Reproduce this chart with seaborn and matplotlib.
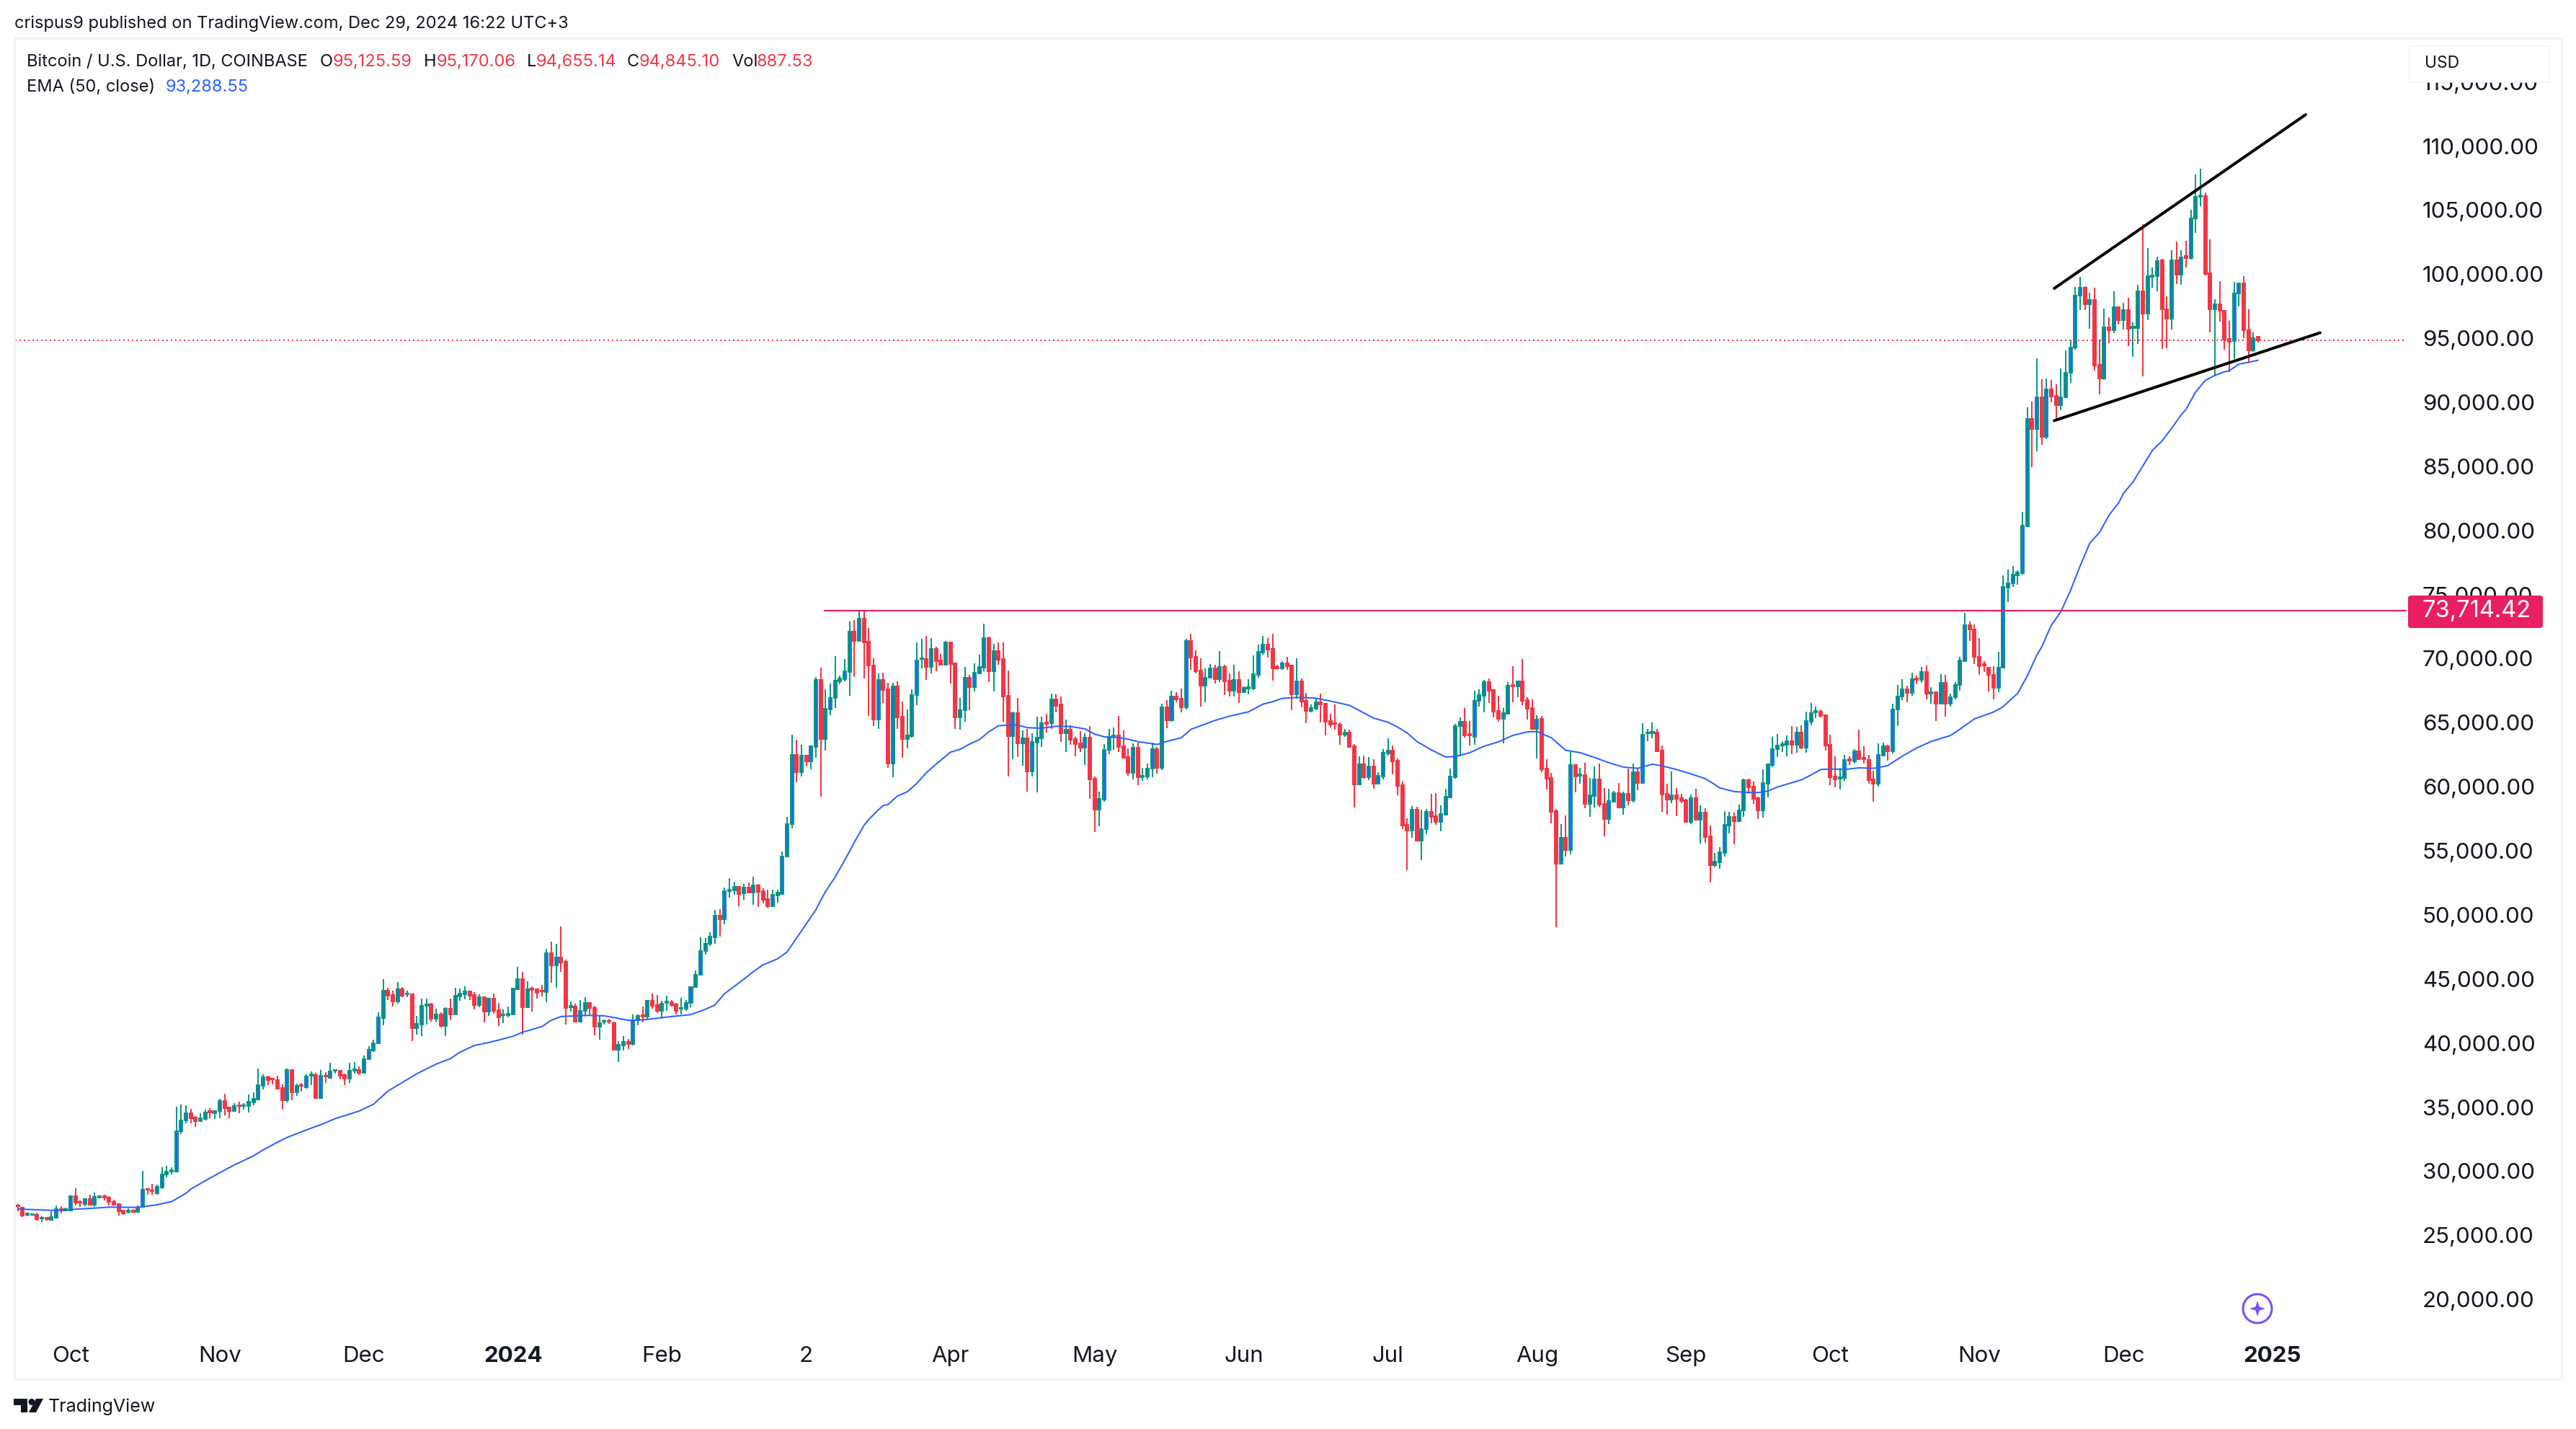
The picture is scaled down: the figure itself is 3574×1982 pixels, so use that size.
import numpy as np
import pandas as pd
import matplotlib
matplotlib.use("Agg")
import matplotlib.pyplot as plt
import seaborn as sns
from matplotlib.patches import Rectangle, Circle, Polygon, FancyBboxPatch

# ---- data (prices in USD, one candle per day from 2023-09-20) ----
opens = [
27310,27180,26580,26580,26600,26320,26355,26225,26390,27030,
26950,26950,28040,27610,27460,27835,27405,27965,28040,27930,
27630,27440,26935,26840,26915,26840,27200,28640,28530,28305,
28755,29730,29990,29975,33105,33950,34530,34190,33890,34080,
34680,34530,34680,35470,34960,34700,35165,35075,35075,35355,
35615,36685,37340,37250,37115,36500,35560,37905,36160,36740,
36575,37475,37510,35710,37475,37305,37830,37830,37510,37250,
37870,37905,37680,38730,39440,39970,41975,44075,43758,43250,
44210,43795,43795,41190,41470,42895,43010,41920,42220,41360,
42670,42240,43660,43830,44020,43755,42990,43610,42480,43455,
42560,42165,42165,42220,44225,44975,42820,44265,44210,44115,
43980,47000,46080,46665,46325,42820,42860,41695,42500,43140,
42745,41300,41680,41750,41565,39480,39820,40080,39915,41770,
42165,42070,43310,42970,42520,43155,43195,43045,42695,42695,
43120,44360,45315,47170,47730,48275,49945,49680,51875,51930,
52175,51670,52120,51765,52310,51860,51240,50657,51518,51630,
54540,57070,62470,61159,62415,62003,63128,68322,63747,66053,
66915,68247,68415,68978,72109,71359,73103,71303,69447,65228,
68322,67609,61834,67815,65453,63728,63953,67159,69953,69972,
69372,70740,69859,69540,71265,69653,65434,65959,68490,67778,
68865,69315,71584,69034,70572,69972,67084,63953,65734,63390,
63784,61197,63447,63784,65003,64947,66822,66409,64178,64459,
63728,63390,63053,63840,60615,58215,59003,62865,63897,63990,
63147,62322,61084,63053,60765,60822,61403,62922,61497,66203,
65190,67028,66878,66222,71378,70140,69072,67872,68490,69240,
68397,69353,68284,67497,68340,67384,67684,67684,68734,70478,
71097,70759,69353,69240,69634,69465,67215,68228,66709,65922,
66090,66597,66484,65134,64972,64853,64065,64234,63165,60184,
61759,60747,61590,60240,60822,62603,62828,62040,60128,57034,
56584,58215,55797,56678,58047,57709,57259,57822,59190,60747,
64722,65078,64103,63897,66690,67122,68172,67553,65922,65303,
65697,67947,67853,68228,66765,66147,64515,65284,61422,60690,
58103,53997,56022,55065,61703,60878,60915,58665,59284,60578,
58665,57484,58834,59509,58384,59453,58947,61140,60297,64159,
64197,64234,62828,59453,59003,59340,59115,58947,57259,59115,
57428,57990,56134,53884,54109,54840,56978,57653,57315,58140,
60522,60015,59115,58159,60259,61722,62922,63203,63297,63559,
63278,64234,63053,65097,65828,65865,65584,63278,60803,60615,
60690,62153,61984,62772,62265,62097,60578,60240,62434,63165,
62778,66029,67018,67620,67345,68438,68328,68982,67292,67372,
66474,68110,66474,66965,67919,69827,72636,72282,70154,69555,
69310,68737,67728,69283,75555,75855,76510,76645,80327,88699,
87935,90417,87281,91017,90526,89790,90390,92326,94289,98352,
98952,97671,97971,92898,91835,95871,95598,97398,96389,97180,
95789,95789,98652,96934,99770,99825,101107,97234,96525,101107,
99934,101407,101243,104325,106015,106097,100043,97262,97671,97153,
94971,94780,98516,99279,95625,94071,95126]

closes = [
27255,26540,26680,26655,26260,26355,26280,26410,27030,26950,
27030,28040,27535,27535,27835,27405,27985,28040,27965,27610,
27405,26900,26690,26915,26840,27160,28570,28570,28455,28790,
29730,29955,30070,33105,33950,34530,34155,33890,34115,34570,
34570,34700,35470,34945,34700,35075,35075,35165,35410,35655,
36725,37340,37115,37155,36440,35560,37905,36160,36665,36665,
37380,37550,35710,37455,37380,37790,37905,37455,37250,37850,
37945,37680,38730,39460,39970,41990,44075,43720,43250,44210,
43700,43870,41190,41490,42895,43010,41920,42220,41360,42690,
42240,43680,43850,44020,43720,42970,43570,42480,43455,42540,
42030,42220,42295,44245,44975,42820,44210,44170,43945,44020,
47000,46080,46665,46290,42765,42895,41695,42500,43140,42725,
41300,41580,41750,41680,39480,39860,40080,39950,41810,42110,
42070,43310,42915,42520,43080,43230,42950,42520,42745,43120,
44360,45315,47170,47730,48295,49945,49680,51860,51970,52195,
51630,52120,51745,52310,51820,51180,50660,51583,51733,54540,
57070,62470,61159,62415,62003,63165,68322,63747,66072,66915,
68265,68434,68997,72109,71378,73103,71284,69447,65228,68322,
67572,61834,67815,65434,63728,63990,67140,69840,70028,69372,
70740,69803,69522,71265,69578,65434,65959,68490,67778,68884,
69353,71584,69034,70572,69934,67065,63953,65734,63390,63765,
61197,63484,63822,64947,64909,66822,66315,64178,64459,63672,
63334,63053,63840,60578,58215,59059,62884,63897,63990,63109,
62265,61084,63053,60747,60840,61403,62922,61497,66203,65190,
67028,66822,66222,71378,70103,69034,67890,68509,69222,68397,
69353,68228,67497,68340,67384,67703,67759,68772,70534,71097,
70703,69240,69240,69615,69428,67215,68228,66653,65922,66147,
66597,66428,65078,64853,64890,64065,64234,63109,60184,61759,
60747,61590,60240,60840,62659,62828,61984,60072,56978,56584,
58215,55797,56697,58047,57653,57259,57878,59209,60784,64740,
65078,64009,64009,66709,67159,68172,67497,65865,65303,65753,
67890,67853,68228,66728,66109,64515,65228,61365,60634,58047,
53997,56022,55065,61703,60803,60972,58665,59340,60578,58609,
57484,58890,59509,58384,59453,58947,61140,60297,64065,64234,
64272,62772,59397,59003,59340,59059,58890,57259,59115,57428,
57972,56078,53884,54165,54897,57034,57653,57315,58159,60522,
59959,59059,58159,60297,61759,62940,63222,63334,63559,63278,
64234,63053,65134,65753,65922,65528,63222,60747,60578,60747,
62097,62040,62772,62134,62172,60522,60240,62490,63165,62772,
66029,67030,67620,67345,68383,68328,68982,67292,67400,66474,
68110,66474,66965,67919,69882,72636,72255,70154,69419,69446,
68710,67728,69310,75582,75855,76564,76727,80381,88699,87935,
90417,87281,91017,90472,89763,90417,92326,94289,98352,98925,
97671,97971,92871,91835,95871,95598,97398,96389,97180,95734,
95898,98652,96934,99825,99880,101025,97234,96525,101107,99934,
101325,101270,104325,106015,106124,100016,97262,97671,97125,94916,
94698,98516,99279,95598,94071,95025,94845]

highs = [
27440,27220,26790,26730,26790,26470,26430,26880,27330,27255,
27160,28100,28680,27725,27890,28175,28340,28040,28150,28040,
27780,27500,26990,27105,27030,27330,30030,28660,29020,28940,
30290,30405,30290,35040,35185,35130,34850,34305,34530,34810,
34905,34755,35635,36050,34960,35300,35430,35320,35990,36140,
38020,37570,37455,37285,37455,36780,38020,37945,36815,36890,
37570,37790,37660,37905,37755,38465,37945,37830,37625,38450,
38525,38170,39010,39740,40250,42385,44975,44300,44095,44770,
44375,44095,43795,42125,43475,43475,43140,42690,42410,42800,
43475,44320,44265,44430,44020,43965,43815,43665,43510,43850,
43140,42630,42860,44245,45950,45540,44825,44430,44265,44545,
47360,47920,47750,49100,46515,43250,43080,43345,43590,43195,
42915,42125,41830,41885,41660,40160,40530,40325,42220,42220,
42860,43345,43870,43755,43310,43700,43365,43140,43535,43365,
44415,45670,48260,48200,48650,50395,50450,52140,52850,52570,
52175,52400,52530,52980,52420,52080,51950,51950,51950,54960,
57634,64047,63653,63278,62490,63222,68565,69297,67609,68059,
70197,68659,69972,72878,73009,73703,73797,72390,70009,68847,
68903,68097,68097,68209,66634,66034,67590,71265,71547,71772,
71603,70928,70365,71359,71265,69690,66934,69353,68734,69634,
70309,72709,71715,71153,71265,71265,69072,65865,66915,64403,
64497,64197,65472,65472,65697,67272,67215,67047,65247,64797,
63897,64347,64178,64740,60803,59622,63334,64515,64628,65528,
64403,62997,63390,63447,61478,61797,63447,63109,66484,66765,
67497,67384,67665,71547,71940,70647,70028,69240,69578,69522,
70590,69522,68847,69522,69015,67834,68397,70253,71097,71772,
71603,71940,69522,69803,70140,69522,70028,68453,67328,66428,
66934,67272,66540,65697,66428,65022,64515,64459,63334,62378,
62434,62322,62153,61140,62940,63784,63222,62209,60409,57540,
58497,58440,58215,58272,59453,59509,58553,59847,61422,64909,
65415,66147,65134,67497,67609,68340,68453,67553,67103,66147,
68172,69409,68284,69972,66990,66822,65584,65528,62153,61084,
58272,57090,57765,62715,61759,61478,61872,60690,61590,61815,
59903,59847,59678,60297,59622,61422,61815,61422,64965,64515,
65022,64515,63222,60240,61197,59903,59453,59059,59397,59847,
58553,58328,56978,54840,55290,58103,58047,57990,58609,60634,
60634,60409,59228,61365,61815,63897,64122,63559,64009,64740,
64684,64797,65865,66540,66259,66034,65584,64065,62378,61478,
62490,62378,62940,64459,63165,62490,61253,63390,63447,63278,
66481,67930,68383,67891,68927,68657,69338,69473,67784,67372,
68792,68710,67292,68192,70154,73564,72882,72691,71600,69827,
69310,69392,70510,76482,76945,77245,76891,81472,89599,90062,
93444,91780,91835,91753,91398,92653,94044,94917,99007,99798,
99034,98570,98925,94917,97289,96635,98652,97398,97780,98161,
96253,99143,103915,102034,100507,101352,101188,98271,101898,102525,
101870,102607,105034,107788,108251,106370,102688,98025,99470,97207,
96334,99388,99361,99825,97262,95434,95170]

lows = [
26880,26450,26470,26540,26150,26055,26170,26170,26355,26730,
26915,26950,27330,27235,27290,27405,27220,27930,27740,27330,
27330,26540,26600,26730,26840,26840,27160,28155,28190,28190,
28640,29540,29730,29920,32915,33760,33740,33480,33855,33985,
34135,34080,34135,34360,34135,34645,34530,34810,34605,35165,
35600,36405,36740,36800,36405,34810,35390,35560,35880,36220,
36440,36740,35710,35675,36890,37305,37640,37190,36725,36890,
37640,37510,37640,38690,39330,39950,41410,43380,42875,43100,
43610,43610,40160,40665,40570,41470,41695,41695,41225,40570,
41790,42200,43325,43440,43365,42630,42800,41620,42145,42315,
41340,41565,42030,42200,44225,40665,42725,42480,43475,43665,
43195,44735,44320,45555,41450,42480,41695,41695,42070,42165,
40610,40290,41470,41510,39410,38545,39445,39560,39840,41415,
41640,41885,42690,42330,41885,42540,42875,42255,42255,42540,
42820,44320,45275,46925,47600,47770,48315,49270,51350,51575,
50675,51180,51670,50810,50620,50920,50550,50590,50980,51630,
54500,56734,60353,60822,61609,61384,62284,59228,62847,65603,
66165,68022,68228,67103,68565,71322,68453,65528,64759,64515,
66540,61478,60765,64515,62265,62997,63822,66390,69240,68340,
68847,69015,69522,69540,68059,64515,64459,65078,65978,67440,
68828,69015,68172,67440,69522,65078,60803,62153,62322,61647,
59622,60803,59565,63109,64234,64515,65809,63503,62715,63278,
62378,62715,61703,59059,56472,56922,58834,62547,62884,62715,
62265,60859,60578,60128,60484,60597,60765,61047,61328,64572,
65078,66597,65828,66053,69128,68847,66259,66597,68453,68059,
68172,67159,67047,67047,66540,67328,67215,67553,68509,70309,
70084,68284,69128,69128,69128,65978,66878,66203,64965,65809,
65978,65022,64009,64628,64478,63278,63897,63109,58384,60184,
60634,60522,59847,60240,60578,62434,60972,59340,56697,53490,
56022,55740,54278,56303,57147,57034,56528,57765,59172,60634,
62378,63840,63222,63278,66259,65809,66540,65415,65078,63390,
65697,66597,67009,66372,65247,64459,62209,61140,59790,57147,
49047,53940,54559,54728,59565,60240,58328,57653,58384,58440,
56134,57090,58778,58384,57822,58553,58778,59734,60297,63559,
63784,62772,58047,57822,58722,57709,58722,57203,57090,57372,
55572,55628,52534,53715,53603,54559,56359,55515,57315,57653,
59453,58665,57484,57597,59172,61534,62322,62697,62378,62547,
62659,62940,62659,64797,65359,65415,62828,60128,59959,59790,
60465,61703,61815,62097,61815,60240,58834,60015,62434,62040,
62606,64760,66747,66582,67101,68028,68110,66800,66474,65150,
66400,65470,66266,66800,67510,69746,71382,69555,68710,68983,
67428,66800,67401,69283,74436,75609,75746,76564,80245,84963,
86190,86654,87117,90008,88617,89380,90335,91535,94098,97180,
97180,95762,92489,90608,91726,94616,95380,96089,95680,94371,
93525,94562,92053,96389,98925,98652,94153,94208,95707,99252,
99170,100534,101134,103233,105279,99880,95462,92053,96280,94098,
92380,93389,97480,94998,93144,93962,94655]

ema_days = [0,8,10,17,19,25,29,32,35,36,39,42,45,49,51,54,56,60,63,66,71,74,77,
83,87,90,92,95,98,100,103,105,109,111,113,118,122,125,127,130,133,136,140,143,145,147,149,151,153,155,
158,160,162,164,166,
168,170,172,174,176,177,179,180,181,183,185,187,189,191,194,196,198,200,202,204,206,208,210,213,216,219,222,224,226,229,231,233,
236,237,239,242,244,246,249,252,256,259,261,263,266,270,273,277,279,282,285,287,289,291,294,297,299,302,305,308,311,
314,316,319,321,322,325,328,331,334,337,340,342,345,348,351,353,354,357,360,362,364,366,369,371,373,375,377,380,383,386,388,389,
392,395,398,402,404,407,410,411,
413,414,416,418,420,421,423,425,427,429,431,432,433,435,437,438,440,442,444,446,448,450,451,453,455,457,459,460,462,464,466]
ema_vals = [27049,26936,26992,27143,27199,27180,27386,27630,28286,28605,29261,29880,30480,31193,31661,32261,32636,33218,33630,34099,34699,35224,36255,
37608,38358,38789,39295,39820,40045,40233,40533,40851,41283,41789,42070,42164,42126,41920,41770,41808,41939,42070,42220,42633,42970,43851,44414,44976,45576,46100,
46566,47100,48200,49300,50400,
51822,52947,54259,55665,56978,57446,58197,58534,58609,59284,59603,60259,61103,61759,62697,62922,63334,63672,64290,64759,64815,64815,64609,64572,64722,64703,64515,64103,63897,63840,63709,63522,
63353,63297,63540,63822,64478,64759,65172,65509,65847,66447,66634,66897,66972,66916,66690,66353,65959,65359,65040,64665,64197,63541,62884,62322,62359,62659,63165,63503,64009,
64290,64309,63822,63165,62846,62659,62284,61872,61534,61440,61759,61628,61347,61009,60634,60165,59921,59622,59565,59547,59659,59978,60315,60540,60915,61347,61384,61347,61478,61440,61571,61665,
62390,63036,63532,64000,64500,65297,65700,65835,
66256,66609,67292,68656,70291,70919,72610,73673,75337,77246,79018,79427,79836,81199,82155,82891,83790,85018,86245,86981,87964,89026,89437,90801,91698,92108,92380,92462,92980,93117,93288]

price_ticks = list(range(20000, 120000, 5000))
month_labels = ["Oct","Nov","Dec","2024","Feb","2","Apr","May","Jun","Jul","Aug","Sep","Oct","Nov","Dec","2025"]
month_days = [11,42,72,103,134,164,194,224,255,285,316,347,377,408,438,469]
level_price = 73714.42
last_close = 94845.10
upper_trend_x, upper_trend_y = [423.6, 475.9], [98889, 112447]
lower_trend_x, lower_trend_y = [423.6, 478.9], [88571, 95429]

GREEN, RED, BLUE, PINK, INK = "#089981", "#F23645", "#2962FF", "#E91E63", "#131722"
PX = 72/100.0   # points per pixel at dpi 100

sns.set_theme(style="white")
plt.rcParams["font.family"] = ["Inter", "DejaVu Sans"]

W, H = 3574, 1982
fig = plt.figure(figsize=(W/100, H/100), dpi=100, facecolor="white")
L, R, T, B = 21, 3553, 54, 1912
ax = fig.add_axes([L/W, 1-B/H, (R-L)/W, (B-T)/H])
ax.set_facecolor("white")
ax.set_xlim((L-24.7)/6.67, (R-24.7)/6.67)
ax.set_ylim(110000-(B-202.5)*56.26, 110000-(T-202.5)*56.26)
for s in ax.spines.values():
    s.set_visible(False)

df = pd.DataFrame({"day": np.arange(len(closes)), "o": opens, "h": highs, "l": lows, "c": closes})
df["up"] = df.c >= df.o
df["base"] = df[["o", "c"]].min(axis=1)
df["size"] = (df.c - df.o).abs()

for up, wick, face in ((True, GREEN, "#1F6AE8"), (False, RED, RED)):
    d = df[df.up == up]
    ax.vlines(d.day, d.l, d.h, color=wick, lw=2*PX, zorder=2)
    ax.bar(d.day, d["size"], bottom=d.base, width=0.6, facecolor=face, edgecolor=wick,
           linewidth=2*PX, zorder=3)

sns.lineplot(x=ema_days, y=ema_vals, ax=ax, color=BLUE, linewidth=2*PX, errorbar=None, zorder=4, legend=False)

ax.plot([ax.get_xlim()[0], 496.3], [last_close]*2, color=RED, lw=2*PX, ls=(0, (1, 2)), zorder=1)
ax.plot([167.8, 496.7], [level_price]*2, color=PINK, lw=2.2*PX, zorder=5)
ax.plot(upper_trend_x, upper_trend_y, color="black", lw=4*PX, zorder=6, solid_capstyle="round")
ax.plot(lower_trend_x, lower_trend_y, color="black", lw=4*PX, zorder=6, solid_capstyle="round")

ax.yaxis.tick_right()
ax.set_yticks(price_ticks)
ax.set_yticklabels([f"{v:,.2f}" for v in price_ticks], fontsize=22.5, color=INK)
ax.tick_params(axis="y", length=0, pad=-(R-3361)*PX)
ax.set_xticks(month_days)
ax.set_xticklabels(month_labels, fontsize=22.5, color=INK)
ax.tick_params(axis="x", length=0, pad=-45*PX)
for t in ax.get_xticklabels():
    if t.get_text() in ("2024", "2025"):
        t.set_fontweight("bold")

# ---- overlay in figure pixels: frame, header, tags, logo ----
ov = fig.add_axes([0, 0, 1, 1], zorder=10)
ov.set_xlim(0, W); ov.set_ylim(H, 0); ov.axis("off"); ov.patch.set_alpha(0)
ov.add_patch(Rectangle((L-1, T-1), R-L+2, B-T+2, fill=False, ec="#F0F3FA", lw=3*PX))

HEAD = 17
ov.text(20, 33, "crispus9 published on TradingView.com, Dec 29, 2024 16:22 UTC+3", fontsize=HEAD, color=INK, va="center")
ov.text(37, 86, "Bitcoin / U.S. Dollar, 1D, COINBASE", fontsize=HEAD, color=INK, va="center")
for x, lab, xv, val in [(444, "O", 462, "95,125.59"), (588, "H", 606, "95,170.06"), (731, "L", 744, "94,655.14"),
                        (870, "C", 887, "94,845.10"), (1015, "Vol", 1050, "887.53")]:
    ov.text(x, 86, lab, fontsize=HEAD, color=INK, va="center")
    ov.text(xv, 86, val, fontsize=HEAD, color=RED, va="center")
ov.text(37, 121, "EMA (50, close)", fontsize=HEAD, color=INK, va="center")
ov.text(230, 121, "93,288.55", fontsize=HEAD, color=BLUE, va="center")

ov.add_patch(Rectangle((3343, 64), 194, 50, fc="white", ec="#F0F3FA", lw=1.5*PX, zorder=3))
ov.text(3364, 88, "USD", fontsize=16.5, color=INK, va="center", zorder=4)

ov.add_patch(FancyBboxPatch((3344, 829), 181, 39, boxstyle="round,pad=3,rounding_size=4", fc=PINK, ec="none", zorder=3))
ov.text(3361, 848, "73,714.42", fontsize=23.5, color="white", va="center", zorder=4)

# assistant icon
ov.add_patch(Circle((3132, 1815), 20, fill=False, ec="#7A4DFF", lw=3*PX))
cx, cy, ro, ri = 3132, 1815, 11, 2.6
star = [(cx, cy-ro), (cx+ri, cy-ri), (cx+ro, cy), (cx+ri, cy+ri), (cx, cy+ro), (cx-ri, cy+ri), (cx-ro, cy), (cx-ri, cy-ri)]
ov.add_patch(Polygon(star, closed=True, fc="#7A4DFF", ec="none"))

# TradingView footer
ov.add_patch(Polygon([(19,1940),(38,1940),(38,1959),(29,1959),(29,1949),(19,1949)], closed=True, fc=INK, ec="none"))
ov.add_patch(Circle((44,1944.5), 4.5, fc=INK, ec="none"))
ov.add_patch(Polygon([(50,1940),(60,1940),(50,1959),(40,1959)], closed=True, fc=INK, ec="none"))
ov.text(67, 1951, "TradingView", fontsize=18, color=INK, va="center")

fig.savefig("out.png", dpi=100, facecolor="white")
